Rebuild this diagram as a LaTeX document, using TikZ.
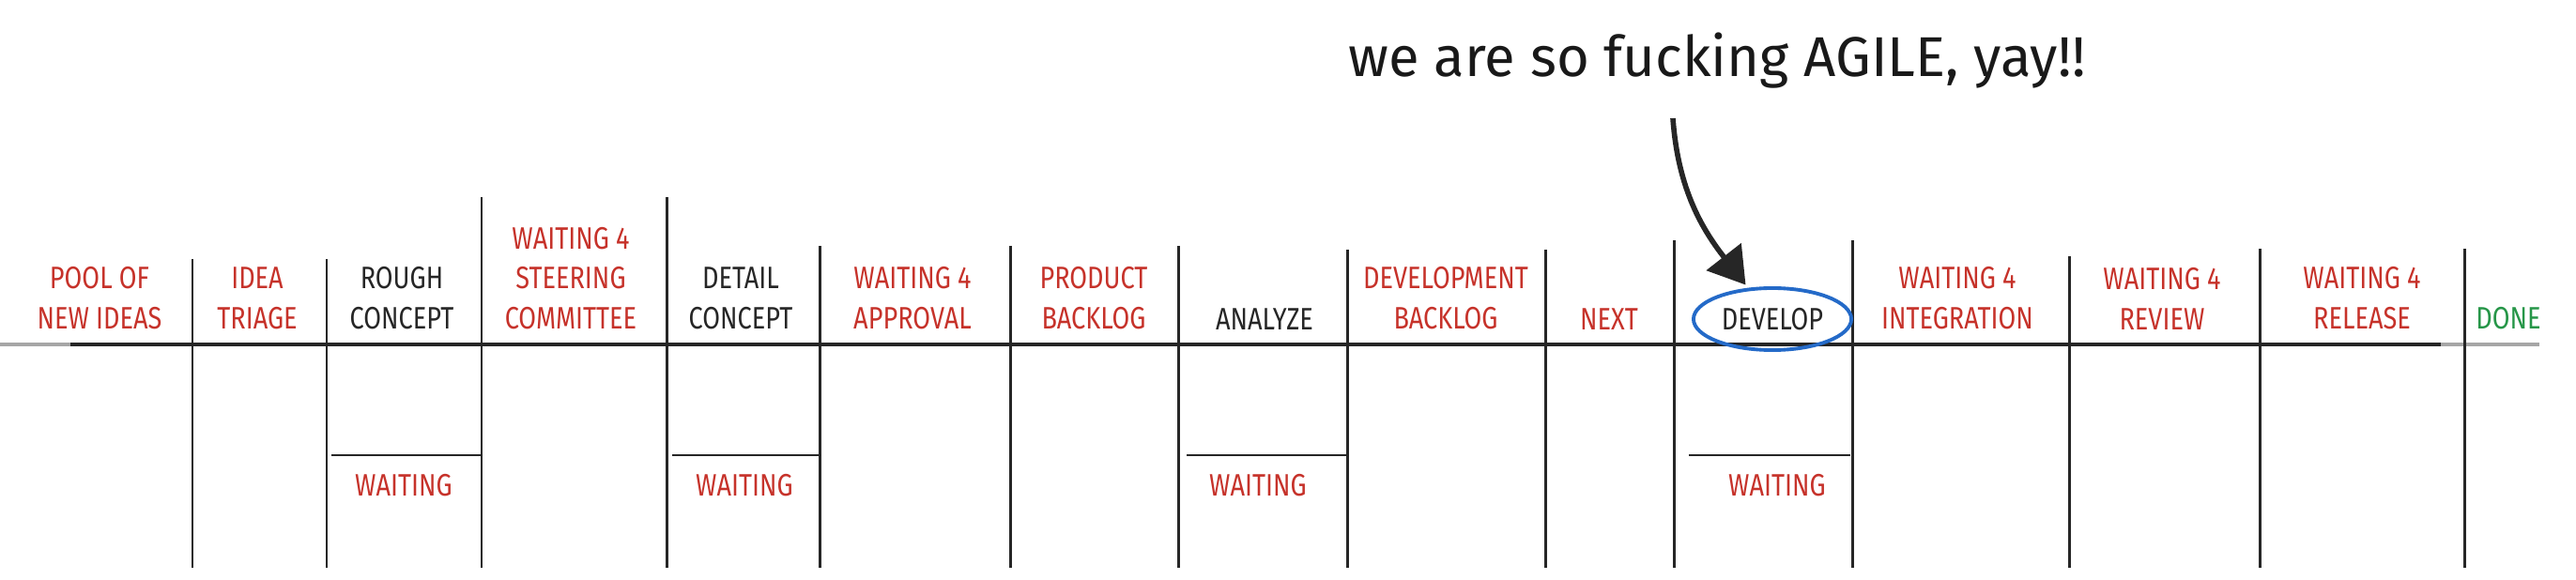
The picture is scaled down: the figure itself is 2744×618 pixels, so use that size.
\documentclass[tikz,border=0pt]{standalone}
\usepackage{fontspec}
\newfontfamily\handfont[FakeStretch=0.82]{Fira Sans}
\newfontfamily\notefont{Fira Sans}
\usepackage{xcolor}
\usetikzlibrary{shapes.geometric, arrows.meta}

\definecolor{boardred}{RGB}{198,50,42}
\definecolor{boardgreen}{RGB}{38,150,72}
\definecolor{boardblue}{RGB}{36,106,200}

\begin{document}
\begin{tikzpicture}[
    x=0.01cm, y=0.01cm,
    heading/.style={anchor=south, align=center, inner sep=0pt, text=boardred, font=\handfont\fontsize{9.4}{12.2}\selectfont},
    blackhead/.style={heading, text=black!85},
    waitlabel/.style={heading, anchor=base},
    note/.style={anchor=base, inner sep=0pt, text=black!90, font=\notefont\fontsize{17}{20}\selectfont},
    circled/.style={ellipse, draw=boardblue, line width=1.1pt, minimum width=1.68cm, minimum height=0.66cm, inner sep=0pt},
    boardline/.style={draw=black!85, line width=0.85pt},
    fadeline/.style={draw=black!35, line width=1pt},
    pointer/.style={-{Triangle[length=3.8mm, width=4.6mm]}, line width=1.6pt, draw=black!85, shorten >=0.4mm},
]
\useasboundingbox (0,0) rectangle (2744,618);

% Board lines
\draw[boardline, line width=1.2pt] (75,251) -- (2600,251);
\draw[fadeline] (0,251) -- (75,251);
\draw[fadeline] (2600,251) -- (2705,251);
\foreach \xx/\yy in {205/342, 348/342, 513/408, 710/408, 873/356, 1076/356, 1255/356,
    1435/352, 1646/352, 1783/362, 1973/362, 2204/345, 2407/353, 2625/353}
  \draw[boardline] (\xx,\yy) -- (\xx,13);

% Waiting split lines
\foreach \a/\b in {353/512, 716/874, 1264/1435, 1799/1971}
  \draw[boardline] (\a,133) -- (\b,133);

% Column headings
\node[heading] (pool) at (106,266) {POOL OF\\NEW IDEAS};
\node[heading] (triage) at (274,266) {IDEA\\TRIAGE};
\node[blackhead] (rough) at (428,266) {ROUGH\\CONCEPT};
\node[heading] (steering) at (608,266) {WAITING 4\\STEERING\\COMMITTEE};
\node[blackhead] (detail) at (789,266) {DETAIL\\CONCEPT};
\node[heading] (approval) at (972,266) {WAITING 4\\APPROVAL};
\node[heading] (prodbacklog) at (1165,266) {PRODUCT\\BACKLOG};
\node[blackhead] (analyze) at (1347,266) {ANALYZE};
\node[heading] (devbacklog) at (1540,266) {DEVELOPMENT\\BACKLOG};
\node[heading] (next) at (1714,266) {NEXT};
\node[blackhead, circled, anchor=center] (develop) at (1888,278) {DEVELOP};
\node[heading] (integration) at (2085,266) {WAITING 4\\INTEGRATION};
\node[heading] (review) at (2303,266) {WAITING 4\\REVIEW};
\node[heading] (release) at (2516,266) {WAITING 4\\RELEASE};
\node[heading, text=boardgreen] (done) at (2672,266) {DONE};

% Waiting labels
\node[waitlabel] (roughwait) at (430,89) {WAITING};
\node[waitlabel] (detailwait) at (793,89) {WAITING};
\node[waitlabel] (analyzewait) at (1340,89) {WAITING};
\node[waitlabel] (developwait) at (1893,89) {WAITING};

% Annotation
\node[note] (note) at (1829,536) {we are so fucking AGILE, yay!!};
\coordinate (tail) at (1782,492);
\draw[pointer] (tail) to[out=-86, in=128] (develop);

\end{tikzpicture}
\end{document}
